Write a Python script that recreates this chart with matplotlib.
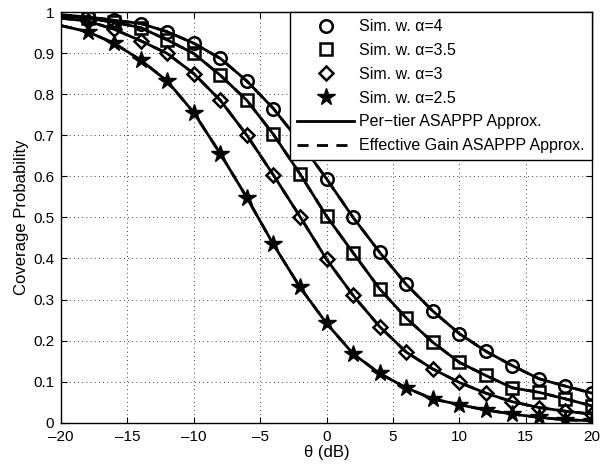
import matplotlib
matplotlib.use("Agg")
import matplotlib.pyplot as plt

plt.rcParams["font.family"] = ["Liberation Sans", "DejaVu Sans"]

theta_sim = [-18, -16, -14, -12, -10, -8, -6, -4, -2, 0, 2, 4, 6, 8, 10, 12, 14, 16, 18, 20]
theta_line = [-20] + theta_sim

# simulated coverage probability
sim_a4 = [0.988, 0.980, 0.972, 0.952, 0.924, 0.887, 0.832, 0.765, 0.683, 0.594,
          0.500, 0.415, 0.337, 0.272, 0.217, 0.174, 0.139, 0.107, 0.089, 0.072]
sim_a35 = [0.985, 0.975, 0.962, 0.932, 0.899, 0.846, 0.785, 0.702, 0.606, 0.503,
           0.414, 0.326, 0.255, 0.196, 0.147, 0.115, 0.085, 0.074, 0.058, 0.041]
sim_a3 = [0.978, 0.958, 0.930, 0.899, 0.850, 0.785, 0.700, 0.603, 0.502, 0.398,
          0.310, 0.234, 0.172, 0.131, 0.098, 0.072, 0.051, 0.037, 0.028, 0.021]
sim_a25 = [0.952, 0.924, 0.883, 0.832, 0.755, 0.655, 0.548, 0.434, 0.330, 0.242,
           0.168, 0.120, 0.085, 0.058, 0.044, 0.031, 0.021, 0.013, 0.007, 0.005]

# approximations (per-tier and effective gain overlap)
approx_a4 = [0.993] + sim_a4
approx_a35 = [0.990] + sim_a35
approx_a3 = [0.985] + sim_a3
approx_a25 = [0.967] + sim_a25

labels = ["Sim. w. \u03b1=4", "Sim. w. \u03b1=3.5", "Sim. w. \u03b1=3", "Sim. w. \u03b1=2.5"]

fig = plt.figure(figsize=(6.0, 4.73), dpi=100)
ax = fig.add_axes([0.1017, 0.1063, 0.885, 0.8683])

for ys in (approx_a4, approx_a35, approx_a3, approx_a25):
    ax.plot(theta_line, ys, color="black", lw=2.0, ls="-", zorder=3)
    ax.plot(theta_line, ys, color="black", lw=2.0, ls=(0, (4, 3)), zorder=3)

ax.plot(theta_sim, sim_a4, ls="none", marker="o", ms=9, mfc="none", mec="black", mew=1.8, zorder=4, label=labels[0])
ax.plot(theta_sim, sim_a35, ls="none", marker="s", ms=8, mfc="none", mec="black", mew=1.8, zorder=4, label=labels[1])
ax.plot(theta_sim, sim_a3, ls="none", marker="D", ms=7, mfc="none", mec="black", mew=1.8, zorder=4, label=labels[2])
ax.plot(theta_sim, sim_a25, ls="none", marker="*", ms=13, mfc="black", mec="black", mew=1.0, zorder=4, label=labels[3])
ax.plot([], [], color="black", lw=2.0, ls="-", label="Per\u2212tier ASAPPP Approx.")
ax.plot([], [], color="black", lw=2.0, ls=(0, (4, 3)), label="Effective Gain ASAPPP Approx.")

ax.set_xlim(-20, 20)
ax.set_ylim(0, 1)
ax.set_xticks(range(-20, 21, 5))
ax.set_xticklabels(["\u2013" + str(-t) if t < 0 else str(t) for t in range(-20, 21, 5)])
ax.set_yticks([i / 10 for i in range(11)])
ax.set_yticklabels(["0"] + ["0.%d" % i for i in range(1, 10)] + ["1"])
ax.tick_params(direction="in", top=True, right=True, labelsize=11, length=4, width=0.8)
ax.tick_params(axis="x", pad=5)
ax.tick_params(axis="y", pad=5)
ax.grid(True, color="black", ls=(0, (1, 4)), lw=0.6)
for sp in ax.spines.values():
    sp.set_linewidth(1.0)

ax.set_xlabel("\u03b8 (dB)", fontsize=12, labelpad=1)
ax.set_ylabel("Coverage Probability", fontsize=12, labelpad=3)

leg = ax.legend(loc="upper right", fontsize=11.5, frameon=True, fancybox=False, borderaxespad=0.0,
                handlelength=3.6, labelspacing=0.55, borderpad=0.45, handletextpad=0.3)
leg.get_frame().set_edgecolor("black")
leg.get_frame().set_linewidth(1.0)
leg.get_frame().set_alpha(1.0)

fig.savefig("out.png", dpi=100)
